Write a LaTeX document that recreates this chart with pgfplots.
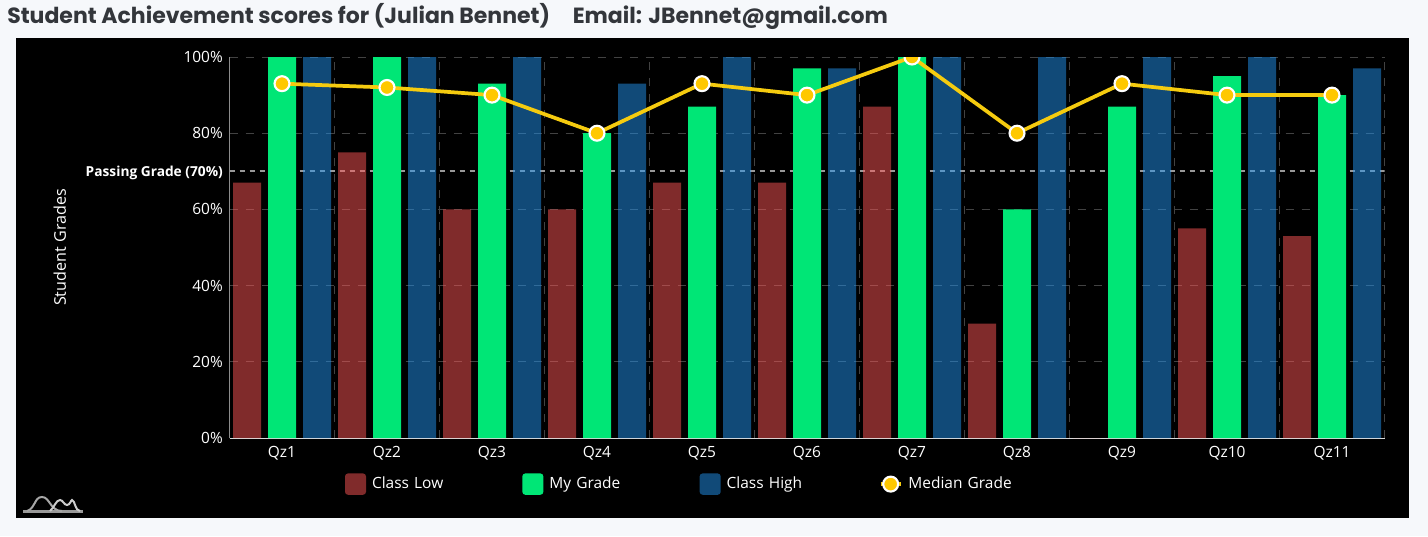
\documentclass[border=0pt]{standalone}
\usepackage{fontspec}
\setmainfont{Open Sans}
\newfontfamily\titlefont{Poppins}
\usepackage{pgfplots}
\pgfplotsset{compat=1.18}
\usepackage{pgfplotstable}
\definecolor{pagebg}{HTML}{F6F8FB}
\definecolor{titlecol}{HTML}{33363B}
\definecolor{lowc}{HTML}{FF5656}
\definecolor{lowshown}{HTML}{802B2B}
\definecolor{myc}{HTML}{00E676}
\definecolor{highc}{HTML}{2294F0}
\definecolor{highshown}{HTML}{114A78}
\definecolor{medline}{HTML}{F5CB0F}
\definecolor{medfill}{HTML}{FFC800}
\definecolor{gridc}{HTML}{424242}
\pgfplotstableread{
x low my high median
0 67 100 100 93
1 75 100 100 92
2 60 93 100 90
3 60 80 93 80
4 67 87 100 93
5 67 97 97 90
6 87 100 100 100
7 30 60 100 80
8 0 87 100 93
9 55 95 100 90
10 53 90 97 90
}\grades
\begin{document}
\begin{tikzpicture}
\begin{scope}[x=0.75pt,y=-0.75pt]
\useasboundingbox (0,0) rectangle (1428,536);
\fill[pagebg] (0,0) rectangle (1428,536);
\fill[black] (16,38) rectangle (1409,518);
\node[anchor=west,inner sep=0pt,text=titlecol,font=\titlefont\fontsize{16.5pt}{19pt}\selectfont\bfseries] at (7,16) {Student Achievement scores for (Julian Bennet)\hspace{17pt}\hbox{Email: JBennet@gmail.co}m};
\end{scope}
\begin{axis}[
  at={(172.125pt,-328.5pt)},anchor=south west,
  scale only axis,width=866.25pt,height=285.75pt,
  xmin=-0.5,xmax=10.5,ymin=0,ymax=100,
  axis x line*=bottom,axis y line*=left,
  axis line style={-,line width=0.75pt},
  x axis line style={color=white!85!black},
  y axis line style={color=white!55!black},
  xtick={0,1,2,3,4,5,6,7,8,9,10},
  xticklabels={Qz1,Qz2,Qz3,Qz4,Qz5,Qz6,Qz7,Qz8,Qz9,Qz10,Qz11},
  minor xtick={-0.5,0.5,1.5,2.5,3.5,4.5,5.5,6.5,7.5,8.5,9.5,10.5},
  ytick={0,20,40,60,80,100},
  yticklabels={0\%,20\%,40\%,60\%,80\%,100\%},
  extra y ticks={70},
  extra y tick labels={\textbf{Passing Grade (70\%)}},
  extra y tick style={grid=none,tick label style={font=\fontsize{10.3pt}{12pt}\selectfont,yshift=-1.3pt}},
  major tick length=0pt,minor tick length=0pt,
  tick label style={text=white,font=\fontsize{11.6pt}{14pt}\selectfont},
  xticklabel style={yshift=-2.5pt},
  yticklabel style={xshift=-1.5pt},
  ymajorgrids,xminorgrids,
  major grid style={color=gridc,line width=0.75pt,dash pattern=on 6pt off 6pt},
  minor grid style={color=gridc,line width=0.75pt,dash pattern=on 6pt off 6pt},
  ylabel={Student Grades},
  every axis y label/.style={at={(axis description cs:-0.147,0.5)},rotate=90,anchor=center,text=white,font=\fontsize{12.1pt}{14pt}\selectfont},
  clip marker paths=true,
  legend columns=4,
  legend style={at={(0.1,-0.121)},anchor=west,draw=none,fill=none,text=white,
    font=\fontsize{11.6pt}{14pt}\selectfont,inner sep=0pt,outer sep=0pt,
    nodes={text width=112.75pt,align=left,inner xsep=0pt,inner ysep=1pt},
    /tikz/every even column/.append style={column sep=0pt},
    /tikz/every odd column/.append style={column sep=4.5pt}},
]
\addplot[forget plot,color=white!60!black,line width=1.5pt,dash pattern=on 3.75pt off 3.75pt] coordinates {(-0.5,70) (10.5,70)};
\addplot[ybar,bar width=21pt,bar shift=-26.25pt,draw=none,fill=lowc,fill opacity=0.5,
  legend image code/.code={\fill[lowshown,fill opacity=1,rounded corners=2.2pt] (0pt,-8pt) rectangle (15.75pt,8pt);}]
  table[x=x,y=low] {\grades};
\addlegendentry{Class Low}
\addplot[ybar,bar width=21pt,bar shift=0pt,draw=none,fill=myc,
  legend image code/.code={\fill[myc,rounded corners=2.2pt] (0pt,-8pt) rectangle (15.75pt,8pt);}]
  table[x=x,y=my] {\grades};
\addlegendentry{My Grade}
\addplot[ybar,bar width=21pt,bar shift=26.25pt,draw=none,fill=highc,fill opacity=0.5,
  legend image code/.code={\fill[highshown,fill opacity=1,rounded corners=2.2pt] (0pt,-8pt) rectangle (15.75pt,8pt);}]
  table[x=x,y=high] {\grades};
\addlegendentry{Class High}
\addplot[color=medline,line width=2.8pt,mark=*,mark size=5.6pt,
  mark options={draw=white,fill=medfill,line width=1.6pt,solid},
  legend image code/.code={\path[draw=none,fill=none] (0pt,0pt) -- (1pt,0pt);
    \draw[medline,line width=2.6pt] (2.75pt,0pt) -- (17.75pt,0pt);
    \fill[medfill,draw=white,line width=1.6pt] (10.25pt,0pt) circle (5.6pt);}]
  table[x=x,y=median] {\grades};
\addlegendentry{Median Grade}
\end{axis}
\begin{scope}[x=0.75pt,y=-0.75pt]
\draw[color=white!60!black,line width=2.2pt] (23,511.5) -- (83,511.5);
\draw[color=white!65!black,line width=1.5pt] (27,511) .. controls (36,508) and (34,497) .. (42,497) .. controls (50,497) and (50,511) .. (62,511);
\draw[color=white!80!black,line width=1.5pt] (50,511) .. controls (54,508) and (56,500) .. (60,500) .. controls (63,500) and (64,505) .. (67,505) .. controls (70,505) and (71,500) .. (72,500) .. controls (75,500) and (75,511) .. (80,511);
\end{scope}
\end{tikzpicture}
\end{document}
